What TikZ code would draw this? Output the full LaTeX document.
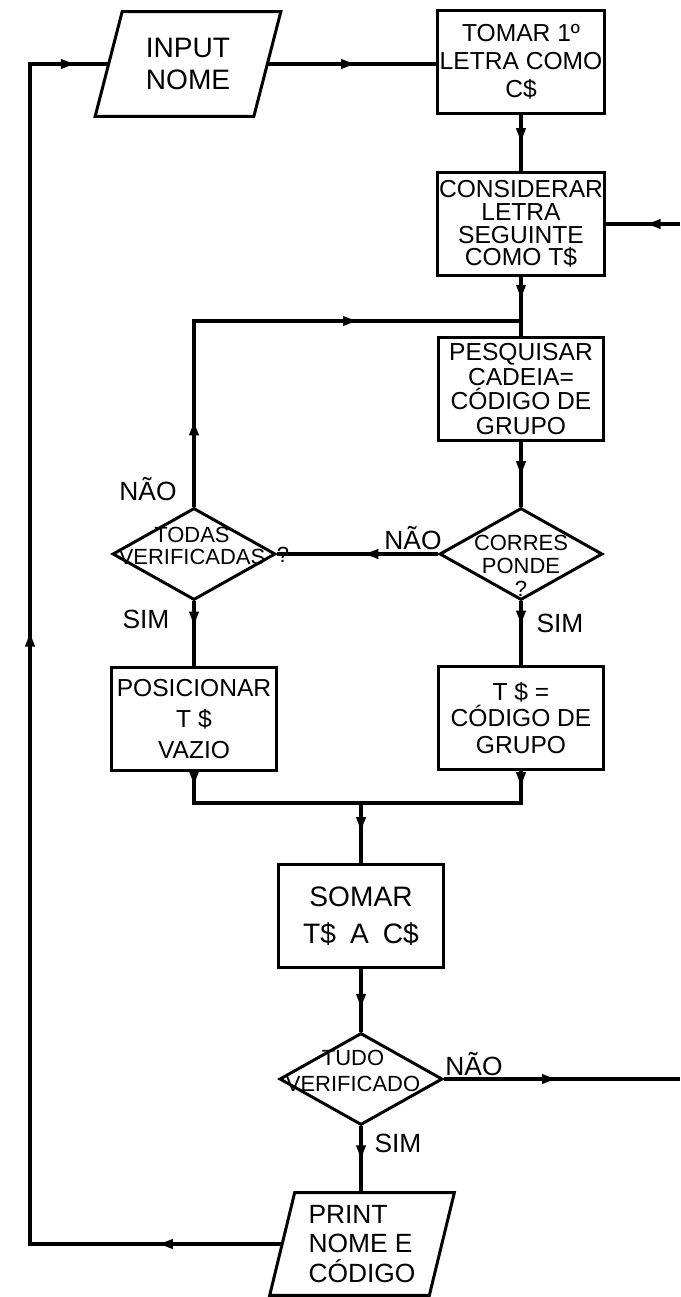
\documentclass[tikz,border=0pt]{standalone}
\usepackage{fontspec}
\setmainfont{Liberation Sans}
\usetikzlibrary{shapes.geometric,arrows.meta,decorations.markings}
\newcommand{\flowfont}[2]{\fontsize{#1}{#2}\selectfont}
\begin{document}
\begin{tikzpicture}[x=0.02cm,y=-0.02cm,
  procbox/.style={draw, line width=1.7pt, rectangle, minimum width=3.3cm, minimum height=2.06cm, inner sep=1pt, align=center},
  decision/.style={draw, line width=1.7pt, diamond, inner sep=0pt, minimum width=3.26cm, minimum height=1.84cm},
  iotext/.style={rectangle, inner sep=1pt, align=left},
  ioline/.style={line width=1.7pt, line join=miter},
  dtext/.style={font=\flowfont{12.5}{13}, align=center, inner sep=0pt},
  flowlabel/.style={font=\flowfont{15}{15}, inner sep=0pt},
  conn/.style={line width=1.8pt},
  arrowat/.style={postaction={decorate,decoration={markings,mark=at position #1 with {\arrow{Latex[length=10pt,width=6pt]}}}}}
]
\useasboundingbox (0,0) rectangle (680,1297);
% input / output parallelograms (text node + outline drawn from its anchors)
\node[iotext, minimum width=3.16cm, minimum height=2.08cm, font=\flowfont{16}{18}] (in) at (188,64) {INPUT\\NOME};
\draw[ioline] ([xshift=-0.27cm]in.south west) -- ([xshift=-0.27cm]in.south east)
  -- ([xshift=0.27cm]in.north east) -- ([xshift=0.27cm]in.north west) -- cycle;
\node[iotext, minimum width=3.18cm, minimum height=2.04cm, font=\flowfont{15}{17}] (prt) at (362,1244) {PRINT\\NOME E\\CÓDIGO};
\draw[ioline] ([xshift=-0.25cm]prt.south west) -- ([xshift=-0.25cm]prt.south east)
  -- ([xshift=0.25cm]prt.north east) -- ([xshift=0.25cm]prt.north west) -- cycle;
% process boxes
\node[procbox, font=\flowfont{14}{16}] (tom) at (521,62) {TOMAR 1º\\LETRA COMO\\C\$};
\node[procbox, font=\flowfont{14}{13}] (con) at (521,224) {CONSIDERAR\\LETRA\\SEGUINTE\\COMO T\$};
\node[procbox, font=\flowfont{14}{14}] (pes) at (521,389) {PESQUISAR\\CADEIA=\\CÓDIGO DE\\GRUPO};
\node[procbox, font=\flowfont{14}{17.5}] (posn) at (194,719) {POSICIONAR\\T \$\\VAZIO};
\node[procbox, font=\flowfont{14}{15}] (tg) at (521,718) {T \$ =\\CÓDIGO DE\\GRUPO};
\node[procbox, font=\flowfont{16}{21}] (som) at (361,916) {SOMAR\\T\$\enspace A\enspace C\$};
% decisions
\node[decision] (cor) at (521,554) {};
\node[dtext] (cort) at (521,566) {CORRES\\PONDE\\?};
\node[decision] (tod) at (194,554) {};
\node[dtext] (todt) at (192,546) {TODAS\\VERIFICADAS};
\node[dtext] (q1) at (283,555) {?};
\node[decision] (tud) at (361,1079) {};
\node[dtext, font=\flowfont{12.5}{15}] (tudt) at (353,1071) {TUDO\\VERIFICADO};
% labels
\node[flowlabel] (l1) at (148,489) {NÃO};
\node[flowlabel] (l2) at (413,538) {NÃO};
\node[flowlabel] (l3) at (146,619) {SIM};
\node[flowlabel] (l4) at (560,623) {SIM};
\node[flowlabel] (l5) at (474,1064) {NÃO};
\node[flowlabel] (l6) at (398,1143) {SIM};
% helper coordinates
\coordinate (lft) at (30,650);
\coordinate (r1) at (680,224);
\coordinate (r2) at (680,1079);
\coordinate (j1) at (521,321);
\coordinate (j2) at (361,803);
% connectors
\draw[conn, arrowat=0.54] (in.east) -- (in.east -| tom.west);
\draw[conn, arrowat=0.55] (tom.south) -- (con.north);
\draw[conn, arrowat=0.5] (r1) -- (con.east);
\draw[conn, arrowat=0.43] (con.south) -- (pes.north);
\draw[conn, arrowat=0.173, arrowat=0.687] (tod.north) -- (tod.north |- j1) -- (j1);
\draw[conn, arrowat=0.57] (pes.south) -- (cor.north);
\draw[conn, arrowat=0.48] (cor.west) -- (tod.east);
\draw[conn, arrowat=0.42] (cor.south) -- (tg.north);
\draw[conn, arrowat=0.43] (tod.south) -- (posn.north);
\draw[conn, arrowat=0.065, arrowat=0.89] (posn.south) -- (posn.south |- j2) -- (j2) -- (som.north);
\draw[conn, arrowat=0.098] (tg.south) -- (tg.south |- j2) -- (j2);
\draw[conn, arrowat=0.68] (som.south) -- (tud.north);
\draw[conn, arrowat=0.49] (tud.east) -- (r2);
\draw[conn, arrowat=0.55] (tud.south) -- (tud.south |- prt.north);
\draw[conn, arrowat=0.084, arrowat=0.574, arrowat=0.98] (prt.west) -- (prt.west -| lft) -- (lft |- in.west) -- (in.west);
\end{tikzpicture}
\end{document}
